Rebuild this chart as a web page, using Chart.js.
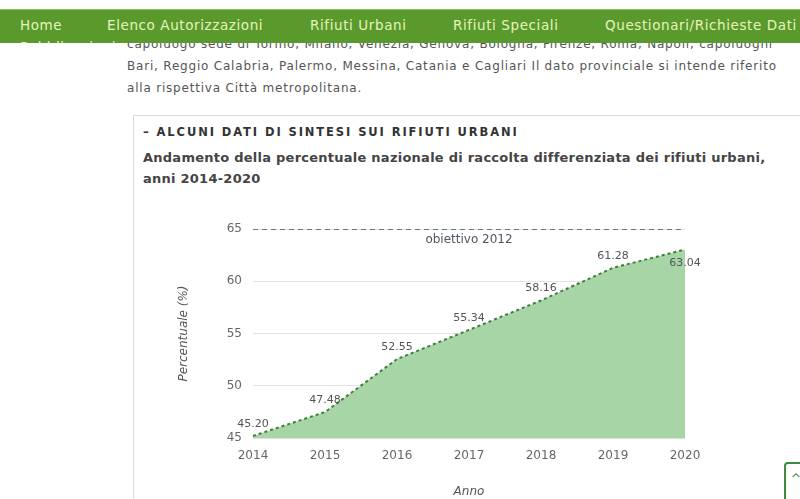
<!DOCTYPE html>
<html lang="it">
<head>
<meta charset="utf-8">
<title>Raccolta differenziata 2014-2020</title>
<script src="https://cdn.jsdelivr.net/npm/chart.js@4"></script>
<style>
  html, body { margin: 0; padding: 0; background: #fff; overflow: hidden; }
  body { width: 800px; height: 499px; position: relative; font-family: "DejaVu Sans", Verdana, sans-serif; }
  #nav { position: absolute; left: 0; top: 9px; width: 800px; height: 33px; background: #5a9a2c;
         border-top: 1px solid #8cc060; overflow: hidden; z-index: 2; }
  #nav span { position: absolute; top: 7px; font-size: 13.5px; letter-spacing: 0.6px; color: #e6f4bc; white-space: nowrap; }
  #nav span.row2 { top: 29px; }
  #intro { position: absolute; left: 127px; top: 33px; width: 680px; font-size: 12px; letter-spacing: 0.8px; line-height: 22px; color: #555; }
  #intro div { white-space: nowrap; }
  #box { position: absolute; left: 133px; top: 115px; width: 700px; height: 420px; border: 1px solid #dcdcdc; background: #fff; }
  #boxhead { position: absolute; left: 9px; top: 9px; font-size: 11.5px; font-weight: bold; color: #333; letter-spacing: 1.9px; white-space: nowrap; }
  #boxtitle { position: absolute; left: 9px; top: 31px; font-size: 13px; font-weight: bold; color: #444; letter-spacing: 0.25px; line-height: 21px; white-space: nowrap; }
  #chartwrap { position: absolute; left: 160px; top: 205px; width: 560px; height: 305px; }
  #totop { position: absolute; left: 784px; top: 462px; width: 20px; height: 40px; border: 2px solid #3c8c3c; border-radius: 4px;
           font-size: 13px; color: #3c8c3c; text-align: center; line-height: 30px; background: #fff; }
</style>
</head>
<body>
<div id="nav">
  <span style="left:20px">Home</span>
  <span style="left:107px">Elenco Autorizzazioni</span>
  <span style="left:310px">Rifiuti Urbani</span>
  <span style="left:453px">Rifiuti Speciali</span>
  <span style="left:605px">Questionari/Richieste Dati</span>
  <span class="row2" style="left:20px">Pubblicazioni</span>
</div>
<div id="intro">
  <div>capoluogo sede di Torino, Milano, Venezia, Genova, Bologna, Firenze, Roma, Napoli, capoluoghi</div>
  <div>Bari, Reggio Calabria, Palermo, Messina, Catania e Cagliari Il dato provinciale si intende riferito</div>
  <div>alla rispettiva Città metropolitana.</div>
</div>
<div id="box">
  <div id="boxhead">– ALCUNI DATI DI SINTESI SUI RIFIUTI URBANI</div>
  <div id="boxtitle">Andamento della percentuale nazionale di raccolta differenziata dei rifiuti urbani,<br>anni 2014-2020</div>
</div>
<div id="chartwrap"><canvas id="rd"></canvas></div>
<div id="totop">^</div>

<script>
// Anni e percentuale nazionale di raccolta differenziata
const anni = ['2014', '2015', '2016', '2017', '2018', '2019', '2020'];
const percentuali = [45.20, 47.48, 52.55, 55.34, 58.16, 61.28, 63.04];
// Obiettivo normativo al 2012
const obiettivo = 65;
const obiettivoLabel = 'obiettivo 2012';
const yTicks = [45, 50, 55, 60, 65];

const FONT = '"DejaVu Sans", Verdana, sans-serif';

// Etichette dei valori e testo dell'obiettivo
const valueLabels = {
  id: 'valueLabels',
  afterDatasetsDraw(chart) {
    const ctx = chart.ctx;
    const meta = chart.getDatasetMeta(0);
    ctx.save();
    ctx.font = '11px ' + FONT;
    ctx.fillStyle = '#555';
    ctx.textAlign = 'center';
    ctx.textBaseline = 'middle';
    const last = meta.data.length - 1;
    meta.data.forEach((pt, i) => {
      const txt = percentuali[i].toFixed(2);
      const dy = i === last ? 14 : -12;
      ctx.fillText(txt, pt.x, pt.y + dy);
    });
    const y = chart.scales.y.getPixelForValue(obiettivo);
    const area = chart.chartArea;
    ctx.font = '12px ' + FONT;
    ctx.fillStyle = '#4f5660';
    ctx.fillText(obiettivoLabel, (area.left + area.right) / 2, y + 11);
    ctx.restore();
  }
};

new Chart(document.getElementById('rd'), {
  type: 'line',
  data: {
    labels: anni,
    datasets: [
      {
        data: percentuali,
        borderColor: '#3f7d3f',
        borderWidth: 2,
        borderDash: [3, 3],
        backgroundColor: 'rgb(168, 213, 166)',
        fill: 'start',
        tension: 0,
        pointRadius: 0
      },
      {
        data: anni.map(() => obiettivo),
        borderColor: '#4a5563',
        borderWidth: 1.5,
        borderDash: [5, 4],
        fill: false,
        pointRadius: 0
      }
    ]
  },
  options: {
    responsive: true,
    maintainAspectRatio: false,
    animation: false,
    layout: { padding: { top: 24, right: 35, bottom: 0, left: 0 } },
    plugins: { legend: { display: false }, tooltip: { enabled: false } },
    scales: {
      x: {
        offset: false,
        grid: { display: false, drawTicks: false },
        border: { display: false },
        ticks: { color: '#666', font: { family: FONT, size: 12 }, padding: 11, maxRotation: 0 },
        title: { display: true, text: 'Anno', color: '#555', font: { family: FONT, size: 12, style: 'italic' }, padding: { top: 0, bottom: 11 } },
        afterFit(s) { s.height = 72; }
      },
      y: {
        min: 45,
        max: 65,
        afterBuildTicks(s) { s.ticks = yTicks.map(v => ({ value: v })); },
        grid: { color: '#e2e2e2', drawTicks: false, lineWidth: 1 },
        border: { display: false },
        ticks: { color: '#666', font: { family: FONT, size: 12 }, padding: 11 },
        title: { display: true, text: 'Percentuale (%)', color: '#555', font: { family: FONT, size: 12, style: 'italic' }, padding: { top: 17, bottom: 0 } },
        afterFit(s) { s.width = 93; }
      }
    }
  },
  plugins: [valueLabels]
});
</script>
</body>
</html>
